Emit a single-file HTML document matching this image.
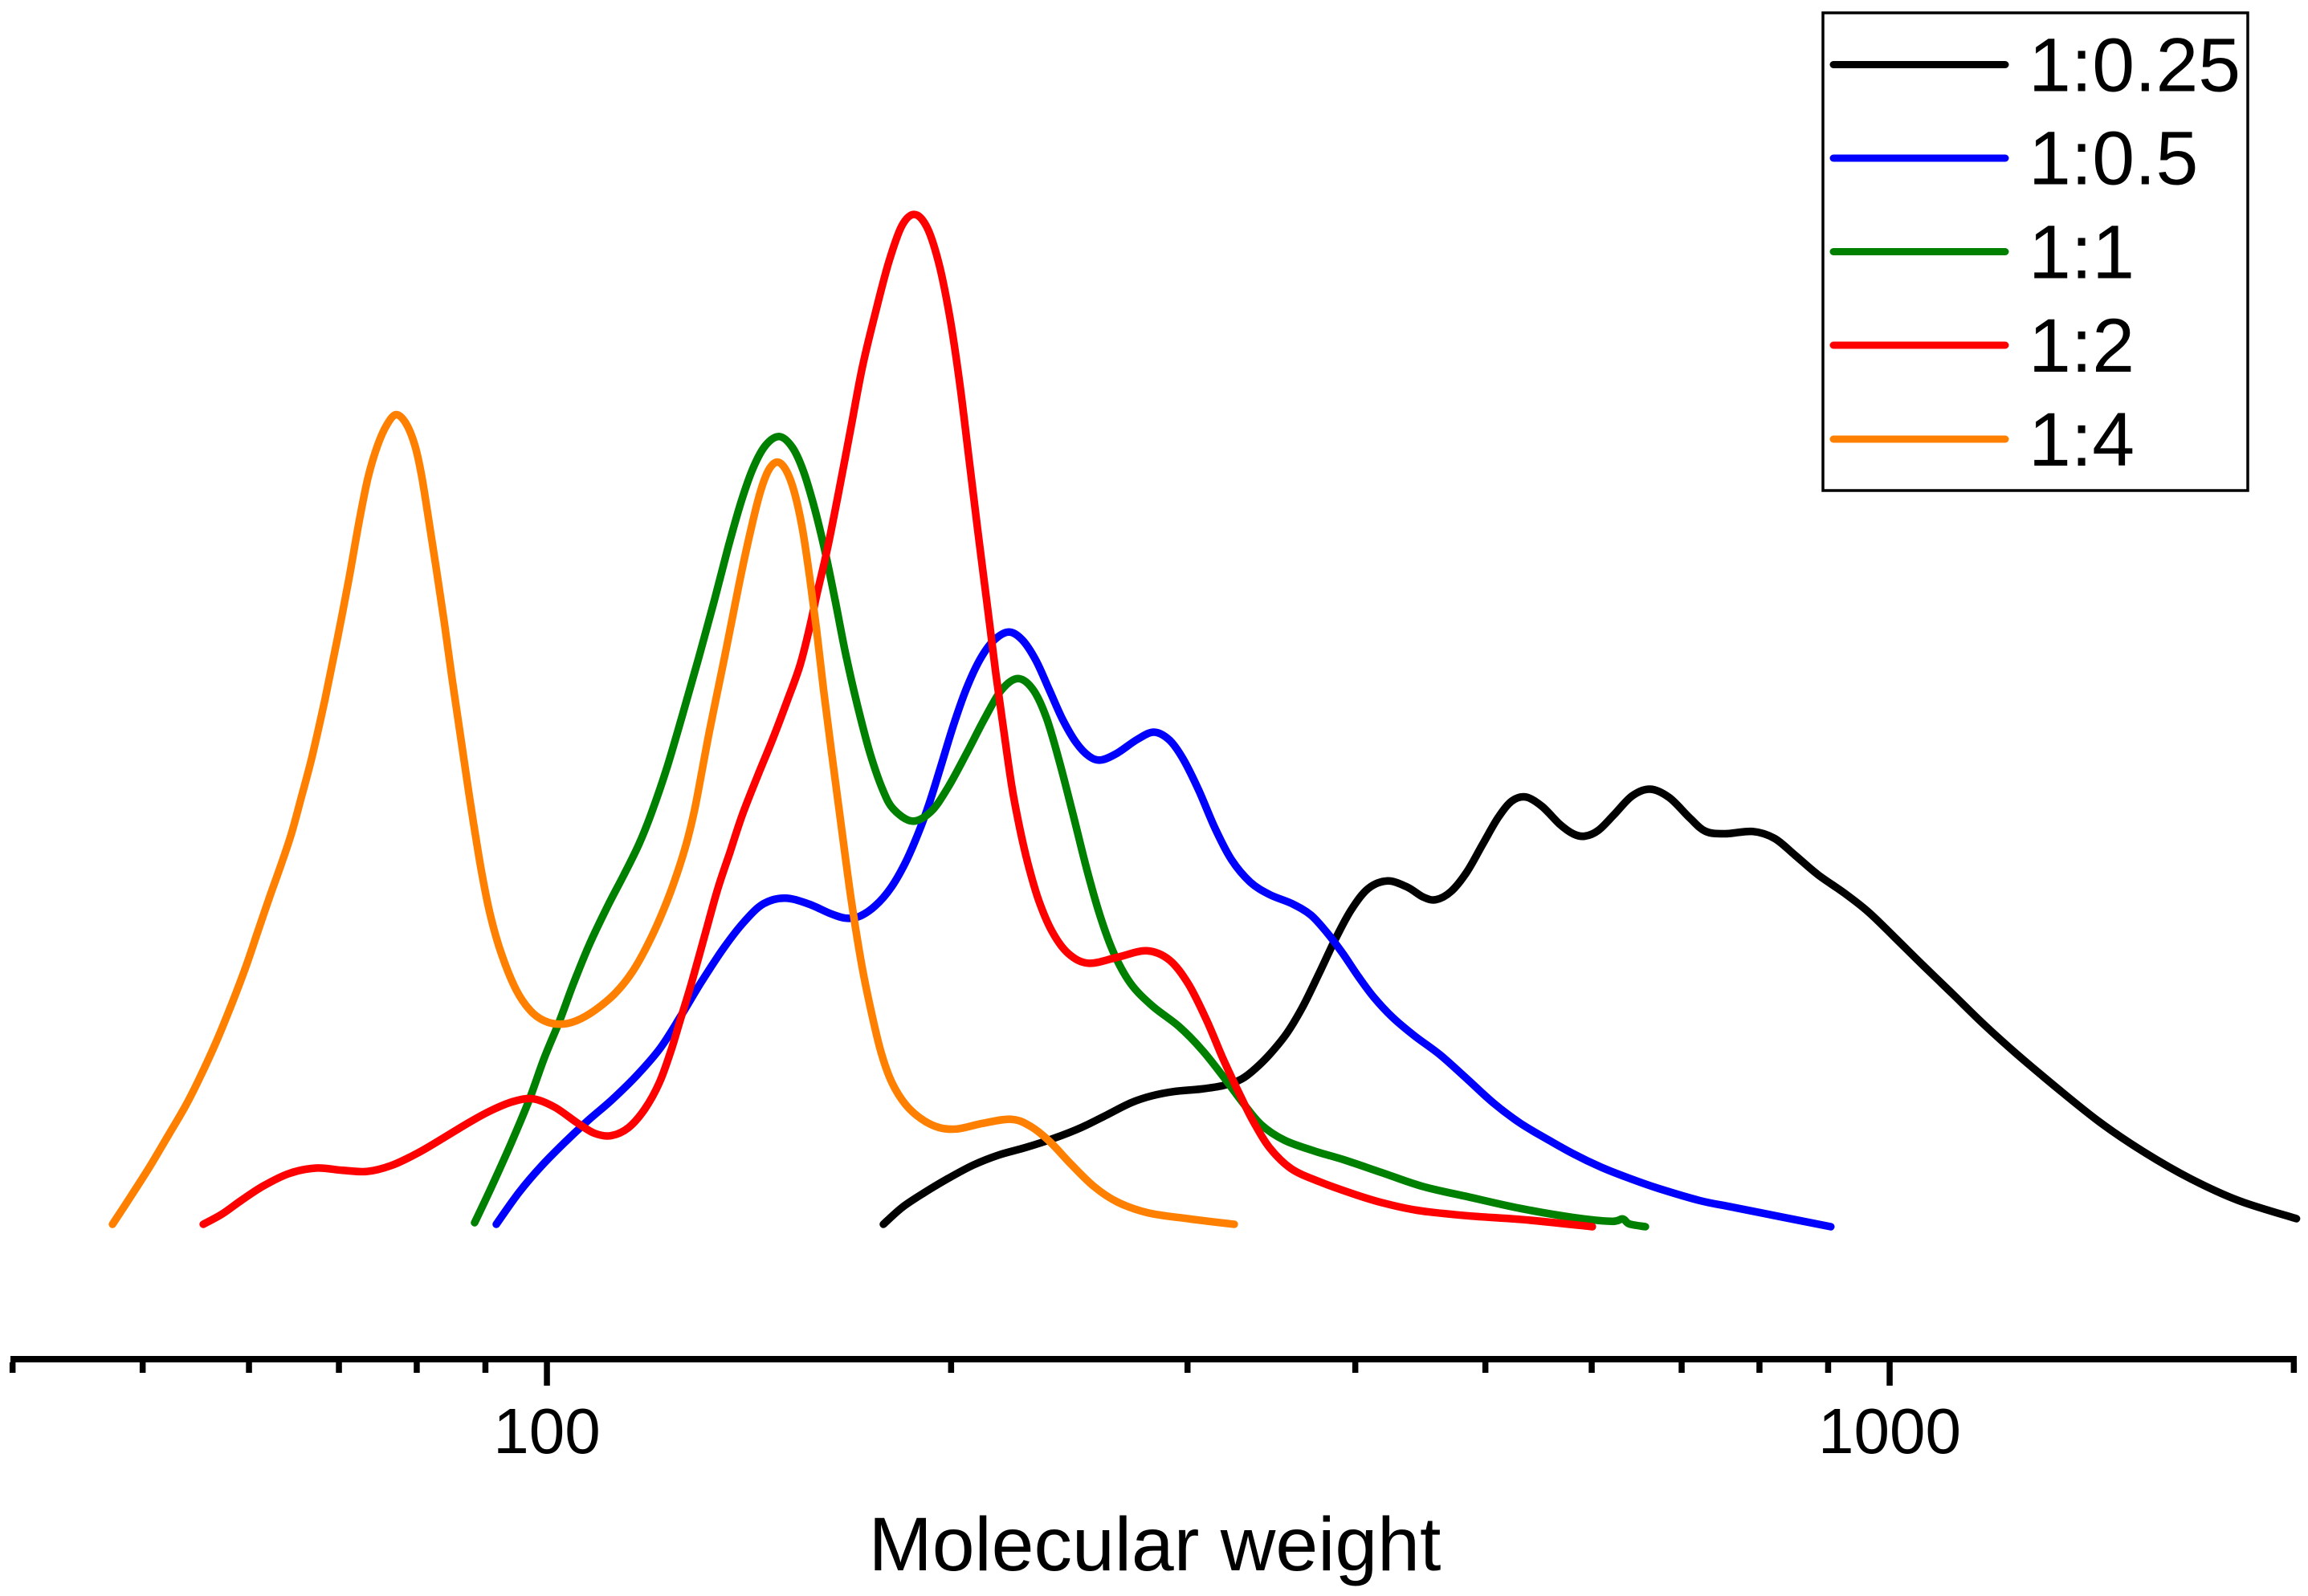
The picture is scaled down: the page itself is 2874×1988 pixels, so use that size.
<!DOCTYPE html>
<html lang="en">
<head>
<meta charset="utf-8">
<title>Molecular weight distribution</title>
<style>
html,body{margin:0;padding:0;background:#fff;}
body{width:2874px;height:1988px;overflow:hidden;}
svg{display:block;}
text{font-family:"Liberation Sans",Arial,sans-serif;fill:#000;}
</style>
</head>
<body>
<svg id="chart" xmlns="http://www.w3.org/2000/svg" width="2874" height="1988" viewBox="0 0 2874 1988">
  <rect x="0" y="0" width="2874" height="1988" fill="#ffffff"/>
  <g id="series-layer"></g>
  <g id="axis-layer"></g>
  <text x="1438" y="1956" font-size="95" text-anchor="middle">Molecular weight</text>
  <g>
    <rect x="2270" y="16" width="529" height="595" fill="#ffffff" stroke="#000" stroke-width="3.5"/>
    <g>
      <line x1="2283" x2="2497" y1="80.5" y2="80.5" stroke="#000000" stroke-width="9" stroke-linecap="round"/>
      <text x="2526" y="113.5" font-size="95">1:0.25</text>
    </g>
    <g>
      <line x1="2283" x2="2497" y1="197" y2="197" stroke="#0000ff" stroke-width="9" stroke-linecap="round"/>
      <text x="2526" y="229.5" font-size="95">1:0.5</text>
    </g>
    <g>
      <line x1="2283" x2="2497" y1="313.5" y2="313.5" stroke="#008000" stroke-width="9" stroke-linecap="round"/>
      <text x="2526" y="346.5" font-size="95">1:1</text>
    </g>
    <g>
      <line x1="2283" x2="2497" y1="430" y2="430" stroke="#ff0000" stroke-width="9" stroke-linecap="round"/>
      <text x="2526" y="463" font-size="95">1:2</text>
    </g>
    <g>
      <line x1="2283" x2="2497" y1="547" y2="547" stroke="#ff8000" stroke-width="9" stroke-linecap="round"/>
      <text x="2526" y="580" font-size="95">1:4</text>
    </g>
  </g>
</svg>
<script>
// Tick values on the molecular-weight axis
var majorTicks = [100, 1000];
var minorTicks = [40, 50, 60, 70, 80, 90, 200, 300, 400, 500, 600, 700, 800, 900, 2000];

// Series 1:0.25 (log10 MW, intensity a.u.)
var logM_1_025 = [2.2506,2.2643,2.2787,2.2984,2.3181,2.3361,2.3564,2.3779,2.3983,2.4180,2.4359,2.4497,2.4658,2.4880,2.5059,2.5179,2.5274,2.5394,2.5514,2.5633,2.5753,2.5872,2.5992,2.6112,2.6261,2.6411,2.6530,2.6614,2.6733,2.6853,2.6973,2.7092,2.7188,2.7290,2.7409,2.7547,2.7648,2.7726,2.7828,2.7948,2.8085,2.8217,2.8354,2.8522,2.8623,2.8761,2.8994,2.9143,2.9293,2.9460,2.9664,2.9831,3.0034,3.0232,3.0465,3.0704,3.0938,3.1237,3.1571,3.1906,3.2241,3.2576,3.3030];
var int_1_025 = [1,23,38,58,76,88,96,108,121,138,154,161,167,169,174,181,194,214,238,272,314,357,395,422,432,422,407,403,413,438,476,511,531,536,524,497,486,483,489,511,538,546,536,505,488,486,493,484,461,436,414,393,359,326,289,249,214,172,126,89,57,30,8];

// Series 1:0.5
var logM_1_05 = [1.9623,1.9797,1.9952,2.0132,2.0293,2.0490,2.0670,2.0849,2.0993,2.1148,2.1328,2.1471,2.1609,2.1770,2.1949,2.2129,2.2237,2.2326,2.2446,2.2565,2.2667,2.2763,2.2846,2.2924,2.3026,2.3122,2.3223,2.3325,2.3444,2.3540,2.3642,2.3743,2.3839,2.3941,2.4042,2.4120,2.4240,2.4401,2.4521,2.4640,2.4736,2.4856,2.4975,2.5095,2.5239,2.5376,2.5555,2.5693,2.5813,2.5932,2.6052,2.6153,2.6291,2.6452,2.6650,2.6853,2.7050,2.7248,2.7451,2.7648,2.7846,2.8049,2.8246,2.8623,2.8761,2.9227,2.9562];
var int_1_05 = [1,43,73,103,129,156,186,219,259,303,349,379,403,410,401,386,381,383,396,419,449,486,523,566,623,669,706,730,743,731,706,666,629,599,582,577,586,606,618,606,583,543,493,453,425,411,401,388,364,338,307,284,259,236,214,182,151,126,107,88,72,59,47,28,25,9,-2];

// Series 1:1
var logM_1_1 = [1.9462,1.9593,1.9737,1.9874,1.9976,2.0096,2.0191,2.0311,2.0455,2.0574,2.0694,2.0771,2.0891,2.1011,2.1130,2.1250,2.1351,2.1447,2.1537,2.1627,2.1734,2.1830,2.1908,2.1986,2.2069,2.2147,2.2225,2.2309,2.2404,2.2506,2.2565,2.2727,2.2865,2.2984,2.3122,2.3265,2.3385,2.3510,2.3624,2.3720,2.3821,2.3923,2.4019,2.4120,2.4222,2.4342,2.4497,2.4718,2.4880,2.5035,2.5179,2.5317,2.5478,2.5735,2.5932,2.6213,2.6512,2.6853,2.7248,2.7648,2.7977,2.8013,2.8043,2.8181];
var int_1_1 = [3,49,103,156,209,253,299,349,399,436,476,509,566,636,706,779,846,903,946,974,987,971,943,899,843,779,709,649,586,539,518,497,513,543,586,633,670,686,670,636,576,509,443,383,336,299,273,248,219,186,153,123,105,91,82,66,47,36,20,9,2,11,0,-2];

// Series 1:2
var logM_1_2 = [1.7441,1.7584,1.7722,1.7883,1.8080,1.8278,1.8481,1.8660,1.8840,1.9037,1.9235,1.9438,1.9593,1.9755,1.9892,2.0054,2.0233,2.0353,2.0472,2.0610,2.0730,2.0843,2.0933,2.0993,2.1070,2.1190,2.1268,2.1369,2.1447,2.1567,2.1686,2.1788,2.1890,2.1956,2.2009,2.2087,2.2165,2.2266,2.2344,2.2446,2.2548,2.2643,2.2739,2.2835,2.2924,2.3002,2.3074,2.3145,2.3205,2.3283,2.3343,2.3403,2.3462,2.3522,2.3582,2.3660,2.3761,2.3881,2.4019,2.4240,2.4479,2.4640,2.4778,2.4916,2.5035,2.5179,2.5256,2.5376,2.5537,2.5735,2.6052,2.6213,2.6452,2.6853,2.7248,2.7786];
var int_1_2 = [1,13,31,49,66,73,68,65,73,89,109,130,144,155,160,149,126,113,109,119,143,176,221,256,296,369,419,466,509,559,606,653,696,743,786,838,906,993,1069,1136,1203,1250,1264,1247,1199,1133,1053,953,869,769,686,616,543,493,449,403,363,336,322,333,346,333,303,256,206,156,130,95,68,55,36,28,18,11,8,-2];

// Series 1:4
var logM_1_4 = [1.6765,1.6902,1.7046,1.7183,1.7315,1.7423,1.7542,1.7662,1.7763,1.7841,1.7943,1.8021,1.8098,1.8164,1.8248,1.8350,1.8439,1.8529,1.8607,1.8666,1.8738,1.8810,1.8876,1.8948,1.9019,1.9067,1.9115,1.9175,1.9235,1.9294,1.9354,1.9426,1.9468,1.9516,1.9575,1.9653,1.9773,1.9874,1.9976,2.0102,2.0215,2.0353,2.0514,2.0634,2.0754,2.0873,2.0969,2.1053,2.1094,2.1208,2.1328,2.1429,2.1531,2.1597,2.1657,2.1722,2.1788,2.1848,2.1908,2.1956,2.2009,2.2057,2.2117,2.2183,2.2266,2.2344,2.2428,2.2488,2.2565,2.2667,2.2787,2.2924,2.3044,2.3241,2.3480,2.3600,2.3743,2.3899,2.4078,2.4240,2.4461,2.4778,2.5119];
var int_1_4 = [1,36,73,113,149,186,229,279,323,363,413,449,486,529,579,656,729,806,883,933,973,999,1014,1002,974,936,883,819,753,679,613,529,486,436,386,339,289,266,253,249,253,266,288,313,349,393,436,483,509,616,709,799,876,920,945,954,941,913,866,809,743,669,593,509,403,321,256,213,176,149,131,120,118,127,135,124,106,76,46,28,14,8,1];

// Axis functions
function xScale(logM) { return 681 + (logM - 2) * 1672; }
function yScale(v) { return 1526 - v; }

var SVGNS = 'http://www.w3.org/2000/svg';

function smoothPath(xs, ys) {
  var raw = [];
  for (var i = 0; i < xs.length; i++) {
    raw.push([xScale(xs[i]), yScale(ys[i])]);
  }
  // light rendering filter: removes digitising jitter before the spline is fitted
  var pts = raw.map(function (p, k) {
    if (k === 0 || k === raw.length - 1) { return p; }
    return [
      (raw[k - 1][0] + 4 * p[0] + raw[k + 1][0]) / 6,
      (raw[k - 1][1] + 4 * p[1] + raw[k + 1][1]) / 6
    ];
  });
  var d = 'M' + pts[0][0].toFixed(1) + ' ' + pts[0][1].toFixed(1);
  for (var j = 0; j < pts.length - 1; j++) {
    var p0 = pts[Math.max(j - 1, 0)];
    var p1 = pts[j];
    var p2 = pts[j + 1];
    var p3 = pts[Math.min(j + 2, pts.length - 1)];
    var c1x = p1[0] + (p2[0] - p0[0]) / 6;
    var c1y = p1[1] + (p2[1] - p0[1]) / 6;
    var c2x = p2[0] - (p3[0] - p1[0]) / 6;
    var c2y = p2[1] - (p3[1] - p1[1]) / 6;
    d += 'C' + c1x.toFixed(1) + ' ' + c1y.toFixed(1) + ' ' + c2x.toFixed(1) + ' ' + c2y.toFixed(1) + ' ' + p2[0].toFixed(1) + ' ' + p2[1].toFixed(1);
  }
  return d;
}

function drawSeries(xs, ys, colour, name) {
  var path = document.createElementNS(SVGNS, 'path');
  path.setAttribute('d', smoothPath(xs, ys));
  path.setAttribute('fill', 'none');
  path.setAttribute('stroke', colour);
  path.setAttribute('stroke-width', '9.5');
  path.setAttribute('stroke-linecap', 'round');
  path.setAttribute('stroke-linejoin', 'round');
  
  
  document.getElementById('series-layer').appendChild(path);
}

drawSeries(logM_1_025, int_1_025, '#000000', 'series-1-0.25');
drawSeries(logM_1_05, int_1_05, '#0000ff', 'series-1-0.5');
drawSeries(logM_1_1, int_1_1, '#008000', 'series-1-1');
drawSeries(logM_1_2, int_1_2, '#ff0000', 'series-1-2');
drawSeries(logM_1_4, int_1_4, '#ff8000', 'series-1-4');

var axisLayer = document.getElementById('axis-layer');

var axisLine = document.createElementNS(SVGNS, 'rect');
axisLine.setAttribute('x', 13);
axisLine.setAttribute('y', 1689);
axisLine.setAttribute('width', 2847);
axisLine.setAttribute('height', 8);
axisLine.setAttribute('fill', '#000');


axisLayer.appendChild(axisLine);

function drawTick(value, bottom, name) {
  var x = xScale(Math.log10(value));
  var tick = document.createElementNS(SVGNS, 'rect');
  tick.setAttribute('x', (x - 3.75).toFixed(1));
  tick.setAttribute('y', 1697);
  tick.setAttribute('width', 7.5);
  tick.setAttribute('height', bottom - 1697);
  tick.setAttribute('fill', '#000');
  
  
  axisLayer.appendChild(tick);
}

minorTicks.forEach(function (t) {
  drawTick(t, 1710, 'x-minor-tick-' + t);
});

majorTicks.forEach(function (t) {
  drawTick(t, 1726, 'x-major-tick-' + t);
  var label = document.createElementNS(SVGNS, 'text');
  label.setAttribute('x', xScale(Math.log10(t)).toFixed(1));
  label.setAttribute('y', 1810);
  label.setAttribute('font-size', 80);
  label.setAttribute('text-anchor', 'middle');
  
  
  label.textContent = String(t);
  axisLayer.appendChild(label);
});
</script>
</body>
</html>
